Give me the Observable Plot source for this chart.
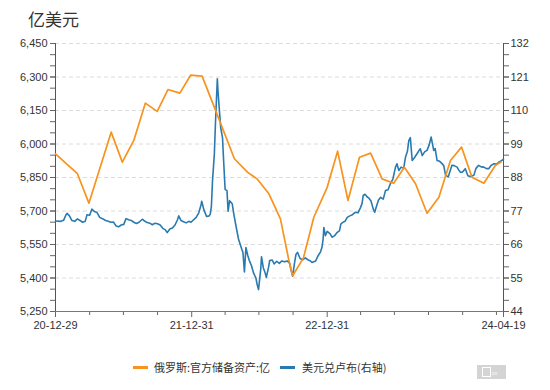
<!DOCTYPE html>
<html><head><meta charset="utf-8">
<script src="https://cdn.jsdelivr.net/npm/d3@7"></script>
<script src="https://cdn.jsdelivr.net/npm/@observablehq/plot@0.6"></script>
<style>
body{margin:0;background:#fff;font-family:"Liberation Sans","Noto Sans CJK SC",sans-serif;}
#wrap{position:relative;width:550px;height:390px;overflow:hidden;background:#fff}
#title{position:absolute;left:28px;top:6px;font-size:17px;color:#333;font-family:"Noto Sans CJK SC",sans-serif}
.lg{position:absolute;top:359px;font-size:11px;color:#333;font-family:"Noto Sans CJK SC",sans-serif;line-height:16px;white-space:nowrap}
.sw{position:absolute;top:366px;width:15px;height:3px}
#wm{position:absolute;left:477px;top:365px;width:29px;height:14px;background:#d4d4d4}
#wm .box{position:absolute;left:5px;top:2px;width:7px;height:8px;border:1px solid #fff}
#wm .t{position:absolute;left:15px;top:5px;font-size:5px;color:#fff}
#chart{position:absolute;left:0;top:0}
</style></head>
<body><div id="wrap">
<div id="chart"></div>
<div id="title">亿美元</div>
<div class="sw" style="left:133px;background:#f7931e"></div>
<div class="lg" style="left:154px">俄罗斯:官方储备资产:亿</div>
<div class="sw" style="left:280px;background:#2a7ab0"></div>
<div class="lg" style="left:302px">美元兑卢布(右轴)</div>
<div id="wm"><div class="box"></div><div class="t">cn</div></div>
</div>
<script>
// Russia official reserve assets (100 million USD)
const resDates = ["2020-12-29","2021-02-26","2021-03-29","2021-05-28","2021-06-27","2021-07-28","2021-08-28","2021-09-29","2021-10-28","2021-11-29","2021-12-28","2022-01-28","2022-02-28","2022-04-25","2022-05-30","2022-06-25","2022-07-27","2022-08-27","2022-09-19","2022-09-29","2022-10-28","2022-11-25","2022-12-31","2023-01-28","2023-02-25","2023-03-28","2023-04-27","2023-05-28","2023-06-28","2023-07-27","2023-08-26","2023-09-26","2023-10-28","2023-11-28","2023-12-28","2024-01-25","2024-02-26","2024-03-28","2024-04-12"];
const resValues = [5956,5867,5735,6053,5919,6016,6183,6146,6244,6228,6308,6304,6173,5934,5874,5844,5777,5665,5477,5410,5490,5672,5806,5968,5747,5941,5959,5844,5824,5896,5822,5690,5762,5926,5986,5851,5824,5904,5919];

// USD/RUB (right axis)
const rubDates = ["2020-12-29","2021-01-12","2021-01-20","2021-01-26","2021-01-29","2021-02-04","2021-02-11","2021-02-19","2021-02-26","2021-03-05","2021-03-12","2021-03-19","2021-03-24","2021-03-31","2021-04-06","2021-04-13","2021-04-20","2021-04-27","2021-05-06","2021-05-13","2021-05-20","2021-05-27","2021-06-03","2021-06-10","2021-06-17","2021-06-24","2021-07-01","2021-07-07","2021-07-14","2021-07-21","2021-07-28","2021-08-04","2021-08-11","2021-08-20","2021-08-26","2021-09-02","2021-09-09","2021-09-16","2021-09-23","2021-09-30","2021-10-07","2021-10-14","2021-10-21","2021-10-26","2021-11-02","2021-11-09","2021-11-16","2021-11-23","2021-11-26","2021-12-02","2021-12-09","2021-12-16","2021-12-23","2021-12-29","2022-01-12","2022-01-19","2022-01-25","2022-01-27","2022-02-02","2022-02-09","2022-02-16","2022-02-19","2022-02-22","2022-02-25","2022-03-02","2022-03-05","2022-03-10","2022-03-12","2022-03-15","2022-03-19","2022-03-24","2022-03-26","2022-03-31","2022-04-05","2022-04-08","2022-04-12","2022-04-19","2022-04-23","2022-04-28","2022-05-06","2022-05-14","2022-05-18","2022-05-22","2022-05-26","2022-05-31","2022-06-04","2022-06-10","2022-06-16","2022-06-22","2022-06-25","2022-06-29","2022-07-05","2022-07-07","2022-07-12","2022-07-16","2022-07-20","2022-07-26","2022-07-29","2022-08-05","2022-08-10","2022-08-17","2022-08-24","2022-08-31","2022-09-07","2022-09-14","2022-09-21","2022-09-24","2022-09-29","2022-10-04","2022-10-08","2022-10-12","2022-10-19","2022-10-26","2022-11-02","2022-11-09","2022-11-16","2022-11-20","2022-11-30","2022-12-07","2022-12-13","2022-12-17","2022-12-20","2022-12-22","2022-12-26","2022-12-31","2023-01-08","2023-01-13","2023-01-20","2023-01-27","2023-02-02","2023-02-06","2023-02-13","2023-02-17","2023-02-23","2023-03-02","2023-03-09","2023-03-17","2023-03-24","2023-03-31","2023-04-04","2023-04-07","2023-04-12","2023-04-18","2023-04-22","2023-04-28","2023-05-04","2023-05-08","2023-05-12","2023-05-18","2023-05-24","2023-05-31","2023-06-06","2023-06-13","2023-06-19","2023-06-26","2023-07-03","2023-07-07","2023-07-12","2023-07-18","2023-07-25","2023-07-30","2023-08-04","2023-08-08","2023-08-12","2023-08-17","2023-08-23","2023-08-30","2023-09-05","2023-09-08","2023-09-13","2023-09-20","2023-09-26","2023-10-02","2023-10-07","2023-10-14","2023-10-18","2023-10-23","2023-10-30","2023-11-06","2023-11-10","2023-11-15","2023-11-22","2023-11-28","2023-12-02","2023-12-08","2023-12-16","2023-12-20","2023-12-25","2023-12-30","2024-01-07","2024-01-14","2024-01-21","2024-01-30","2024-02-05","2024-02-12","2024-02-19","2024-02-26","2024-03-04","2024-03-10","2024-03-17","2024-03-24","2024-03-31","2024-04-06","2024-04-12","2024-04-19"];
const rubValues = [73.7,73.6,74.0,75.7,76.2,75.5,73.9,73.6,74.4,73.9,73.3,73.6,75.8,75.6,77.6,76.8,76.5,74.9,74.4,73.9,73.6,73.3,73.4,72.1,71.8,72.4,72.6,74.5,74.1,73.9,73.3,72.9,73.3,74.3,73.7,73.2,73.0,72.5,73.0,72.8,72.4,71.3,70.8,69.9,71.1,71.4,72.4,74.2,75.4,73.9,73.5,73.1,73.6,73.3,74.9,76.4,79.0,80.2,77.3,75.2,75.4,76.0,78.5,86.9,95.7,106.0,120.4,116.0,111.0,104.5,101.0,95.8,84.1,83.7,76.9,80.4,79.4,76.3,72.9,67.8,64.8,63.4,57.0,65.0,62.4,60.8,59.0,56.5,55.0,53.0,51.2,58.0,62.0,58.3,57.0,55.2,58.5,60.7,60.9,59.6,60.5,59.8,60.6,60.3,60.6,59.8,57.9,55.6,60.0,62.8,63.4,61.4,61.0,61.6,61.0,60.6,60.1,60.6,62.4,63.6,65.1,67.8,71.6,68.9,70.3,69.5,68.4,68.9,70.0,70.5,72.8,73.4,73.6,74.9,75.4,75.8,76.6,76.4,78.2,79.5,82.1,82.5,81.6,81.3,80.3,77.7,76.6,78.2,80.5,81.5,80.9,83.7,84.0,85.9,87.5,91.4,92.5,90.3,91.4,91.0,94.7,96.5,100.2,101.1,93.6,94.5,95.8,97.0,97.4,95.2,96.5,96.9,98.8,101.3,96.9,97.5,93.6,93.3,92.5,91.9,88.7,88.2,90.5,92.0,91.9,91.4,90.5,89.7,89.7,90.9,88.6,88.3,88.7,91.0,92.0,91.5,91.4,90.9,90.9,92.0,92.5,92.4,93.0,93.4,94.0];

// axis ticks
const leftTicks = [5250,5400,5550,5700,5850,6000,6150,6300,6450];
const rightTicks = [44,55,66,77,88,99,110,121,132];
const xLabelDates = ["2020-12-29","2021-12-31","2022-12-31","2024-04-19"];
const xMinorDates = ["2021-03-31","2021-06-30","2021-09-30","2022-03-31","2022-06-30","2022-09-30","2023-03-31","2023-06-30","2023-09-30","2023-12-31","2024-03-31"];

const parse = d3.utcParse("%Y-%m-%d");
const reserves = resDates.map((d,i)=>({date:parse(d), value:resValues[i]}));
const rub = rubDates.map((d,i)=>({date:parse(d), value:rubValues[i]}));
const L0 = 5250, L1 = 6450, R0 = 44, R1 = 132;
const toLeft = v => L0 + (v - R0) * (L1 - L0) / (R1 - R0);
const fromLeft = v => Math.round(R0 + (v - L0) * (R1 - R0) / (L1 - L0));
const leftMinor = d3.range(L0, L1 + 1, 50);
const start = parse("2020-12-29"), end = parse("2024-04-19");
const fmtX = d3.utcFormat("%y-%m-%d");

const chart = Plot.plot({
  width: 550, height: 390,
  marginLeft: 55, marginRight: 47, marginTop: 43, marginBottom: 79,
  x: {type: "utc", domain: [start, end]},
  y: {domain: [L0, L1]},
  style: {fontFamily: '"Liberation Sans", Arial, sans-serif', fontSize: "11px", color: "#333", background: "transparent", overflow: "visible"},
  marks: [
    Plot.ruleY(leftTicks.slice(1), {stroke: "#dcdcdc", strokeDasharray: "4,3"}),
    Plot.axisY({ticks: leftMinor, tickSize: 5, tickFormat: () => "", stroke: "#666", label: null}),
    Plot.axisY({ticks: leftTicks, tickSize: 5, tickPadding: 3, tickFormat: d3.format(","), stroke: "#666", fill: "#333", label: null}),
    Plot.axisY({anchor: "right", ticks: leftMinor, tickSize: 5, tickFormat: () => "", stroke: "#666", label: null}),
    Plot.axisY({anchor: "right", ticks: rightTicks.map(toLeft), tickSize: 5, tickPadding: 2, tickFormat: fromLeft, stroke: "#666", fill: "#333", label: null}),
    Plot.axisX({ticks: xMinorDates.map(parse), tickSize: 4, tickFormat: () => "", stroke: "#666", label: null}),
    Plot.axisX({ticks: xLabelDates.map(parse), tickSize: 6, tickPadding: 4, tickFormat: fmtX, stroke: "#666", fill: "#333", label: null}),
    Plot.ruleX([start], {stroke: "#555"}),
    Plot.ruleX([end], {stroke: "#555"}),
    Plot.ruleY([L0], {stroke: "#777"}),
    Plot.line(rub, {x: "date", y: d => toLeft(d.value), stroke: "#2a7ab0", strokeWidth: 1.6}),
    Plot.line(reserves, {x: "date", y: "value", stroke: "#f7931e", strokeWidth: 1.7})
  ]
});
document.getElementById("chart").appendChild(chart);
</script>
</body></html>
